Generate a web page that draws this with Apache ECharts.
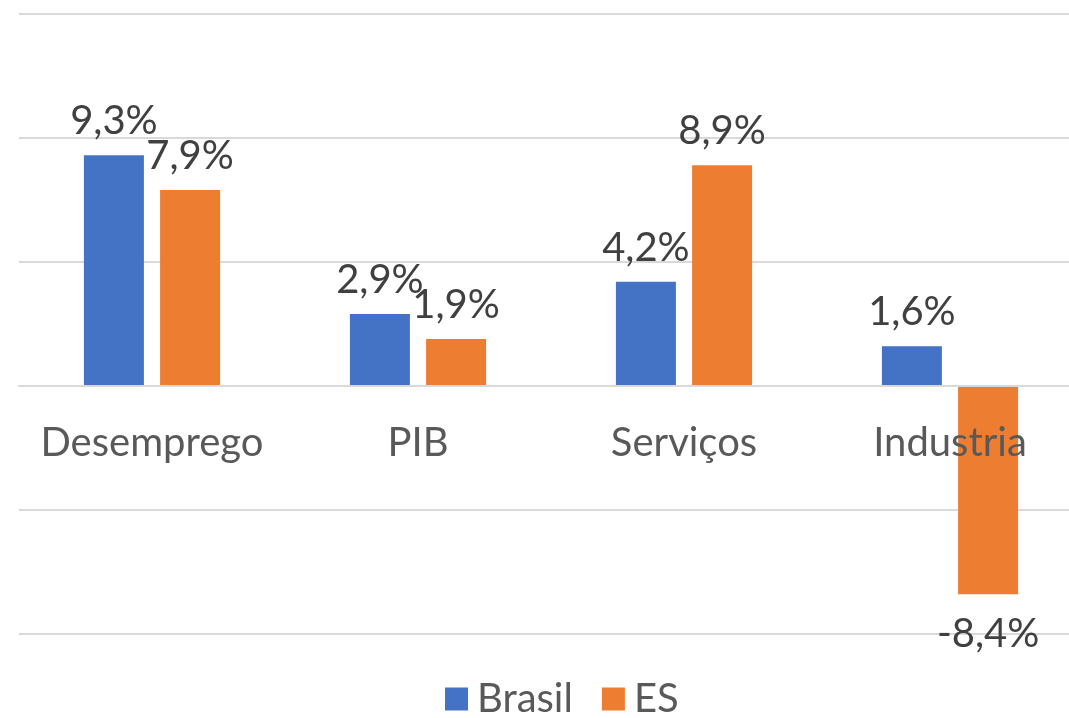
<!DOCTYPE html>
<html>
<head>
<meta charset="utf-8">
<script src="https://cdn.jsdelivr.net/npm/echarts@6/dist/echarts.min.js"></script>
<style>
  html, body { margin: 0; padding: 0; background: #fff; }
  #chart { width: 1069px; height: 718px; }
</style>
</head>
<body>
<div id="chart"></div>
<script>
var categories = ['Desemprego', 'PIB', 'Serviços', 'Industria'];
var brasil = [9.3, 2.9, 4.2, 1.6];
var es = [7.9, 1.9, 8.9, -8.4];

var fontFamily = 'Lato, "Noto Sans", sans-serif';

function pct(p) {
  return p.value.toFixed(1).replace('.', ',') + '%';
}

// negative bars get their label underneath
function withLabels(values) {
  return values.map(function (v) {
    return {
      value: v,
      label: v < 0 ? { position: 'bottom', distance: 20 } : { position: 'top', distance: 14 }
    };
  });
}

var chart = echarts.init(document.getElementById('chart'));

chart.setOption({
  animation: false,
  textStyle: { fontFamily: fontFamily },
  legend: {
    data: ['Brasil', 'ES'],
    top: 674,
    left: 440,
    itemWidth: 23,
    itemHeight: 23,
    itemGap: 29,
    icon: 'rect',
    textStyle: { color: '#595959', fontSize: 40, fontFamily: fontFamily, padding: [0, 0, 0, 4] }
  },
  grid: { left: 19, right: -14, top: 14, bottom: 84, outerBoundsMode: 'none', containLabel: false },
  xAxis: {
    type: 'category',
    data: categories,
    z: 10,
    offset: -248,
    axisLine: { onZero: false, lineStyle: { color: '#d9d9d9', width: 2 } },
    axisTick: { show: false },
    axisLabel: { interval: 0, color: '#595959', fontSize: 40, margin: 37, fontFamily: fontFamily }
  },
  yAxis: {
    type: 'value',
    min: -10,
    max: 15,
    interval: 5,
    axisLabel: { show: false },
    axisLine: { show: false },
    axisTick: { show: false },
    splitLine: { lineStyle: { color: '#d9d9d9', width: 2 } }
  },
  series: [
    {
      name: 'Brasil',
      type: 'bar',
      data: withLabels(brasil),
      barWidth: 60,
      barGap: '27%',
      itemStyle: { color: '#4472C4' },
      label: { show: true, color: '#404040', fontSize: 40, formatter: pct }
    },
    {
      name: 'ES',
      type: 'bar',
      data: withLabels(es),
      barWidth: 60,
      itemStyle: { color: '#ED7D31' },
      label: { show: true, color: '#404040', fontSize: 40, formatter: pct }
    }
  ]
});
</script>
</body>
</html>
